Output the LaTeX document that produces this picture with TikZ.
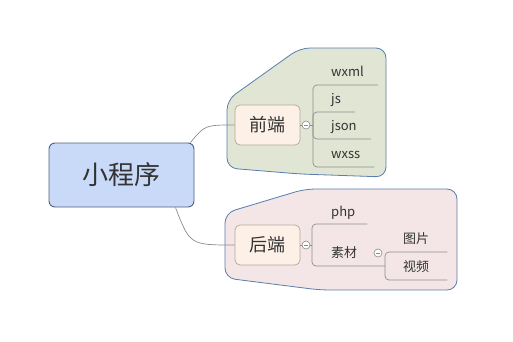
\documentclass[tikz,border=0pt]{standalone}
\usepackage{fontspec}
\setmainfont{Noto Sans CJK SC}
\usepackage{tikz}
\usetikzlibrary{positioning}
\definecolor{bleuc}{RGB}{201,218,248}
\definecolor{bordr}{RGB}{80,95,125}
\definecolor{vertc}{RGB}{225,230,212}
\definecolor{rosec}{RGB}{244,230,230}
\definecolor{zonebord}{RGB}{90,125,175}
\definecolor{peche}{RGB}{253,241,231}
\definecolor{brun}{RGB}{180,165,150}
\definecolor{gris}{RGB}{140,140,140}
\definecolor{texte}{RGB}{51,51,51}

\begin{document}
\begin{tikzpicture}[x=1pt, y=-1pt,
  racine/.style={rectangle, rounded corners=6pt, draw=bordr, fill=bleuc, line width=0.9pt,
                 minimum width=145pt, minimum height=64pt, inner sep=0pt,
                 font=\fontsize{26}{26}\selectfont, text=texte},
  branche/.style={rectangle, rounded corners=5pt, draw=brun, fill=peche, line width=0.7pt,
                  minimum width=65pt, minimum height=40pt, inner sep=0pt,
                  font=\fontsize{18}{18}\selectfont, text=texte},
  feuille/.style={anchor=base west, inner sep=0pt, font=\fontsize{13}{13}\selectfont, text=texte},
  pli/.style={circle, draw=gris, fill=white, line width=0.6pt, minimum size=8pt, inner sep=0pt,
              path picture={\draw[gris, line width=0.6pt]
                ([xshift=-2pt]path picture bounding box.center) -- ([xshift=2pt]path picture bounding box.center);}},
  zone/.style={draw=zonebord, line width=0.8pt, rounded corners=10pt},
  lien/.style={draw=gris, line width=0.7pt},
  arbre/.style={lien, rounded corners=4pt}]

\useasboundingbox (0,0) rectangle (513,341);

% fonds
\filldraw[zone, fill=vertc] (227,140) -- (227,100) -- (300,48) -- (386,48) -- (386,177)
  -- (300,174) -- (227,168) -- cycle;
\filldraw[zone, fill=rosec] (225,250) -- (225,213) -- (305,189) -- (457,189) -- (457,290)
  -- (320,290) -- (225,278) -- cycle;

% sujets
\node[racine] (root) at (121.5,175) {小程序};
\node[branche] (qd) at (267.5,125) {前端};
\node[branche] (hd) at (267.5,245) {后端};
\draw[lien] ([xshift=-4pt]root.north east) .. controls (205,125) .. (qd.west);
\draw[lien] ([xshift=-19pt]root.south east) .. controls (190,245) .. (hd.west);

% front
\node[pli] (qdp) at (306,125) {};
\coordinate (qds) at (313,125);
\draw[lien] (qd.east) -- (qdp.west);
\draw[lien] (qdp.east) -- (qds);
\node[feuille] (wxml) at (331,76) {wxml};
\node[feuille] (js) at (331,103) {js};
\node[feuille] (json) at (331,130) {json};
\node[feuille] (wxss) at (331,158) {wxss};
\foreach \f in {wxml,js,json,wxss}
  \draw[arbre] (qds) |- ([xshift=14pt,yshift=-9pt]\f.base east);

% back
\node[pli] (hdp) at (306,245) {};
\coordinate (hds) at (312,245);
\draw[lien] (hd.east) -- (hdp.west);
\draw[lien] (hdp.east) -- (hds);
\node[feuille] (php) at (331,216) {php};
\node[feuille] (sc) at (331,257) {素材};
\coordinate (scs) at (385,266);
\draw[arbre] (hds) |- ([xshift=12pt,yshift=-8pt]php.base east);
\draw[arbre] (hds) |- (scs);
\node[pli] (scp) at (378,253) {};
\node[feuille] (tp) at (403,243) {图片};
\node[feuille] (sp) at (403,271) {视频};
\foreach \f in {tp,sp}
  \draw[arbre] (scs) |- ([xshift=18pt,yshift=-9pt]\f.base east);

\end{tikzpicture}
\end{document}
